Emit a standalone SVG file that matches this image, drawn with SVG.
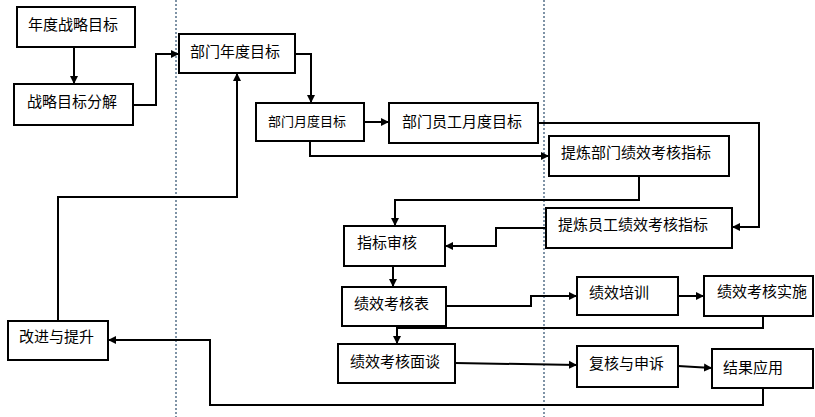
<svg xmlns="http://www.w3.org/2000/svg" width="815" height="417" viewBox="0 0 815 417">
<style>
.box{fill:#fff;stroke:#000;stroke-width:2}
.t{font-family:"Noto Sans CJK SC","Liberation Sans",sans-serif;font-size:15px;fill:#000}
.c{fill:none;stroke:#000;stroke-width:2;marker-end:url(#ah)}
.n{fill:none;stroke:#000;stroke-width:2}
.lane{stroke:#7f93a6;stroke-width:2;stroke-dasharray:2,2}
</style>
<defs>
<marker id="ah" markerUnits="userSpaceOnUse" markerWidth="9" markerHeight="9" refX="8" refY="4.5" orient="auto">
<path d="M0,0.5 L8,4.5 L0,8.5 z" fill="#000"/>
</marker>
</defs>
<rect width="815" height="417" fill="#fff"/>
<g id="lanes">
<line class="lane" x1="176" y1="0" x2="176" y2="417"/>
<line class="lane" x1="544" y1="0" x2="544" y2="417"/>
</g>
<g id="connectors">
<path class="c" d="M74,47 V84"/>
<path class="c" d="M133,105 H156 V54 H179"/>
<path class="c" d="M295,54 H311 V103"/>
<path class="c" d="M364,122 H389"/>
<path class="c" d="M310,141 V156 H549"/>
<path class="c" d="M538,123 H759 V227 H732"/>
<path class="c" d="M639,176 V200 H395 V226"/>
<path class="c" d="M546,228 H496 V246 H445"/>
<path class="c" d="M393,266 V287"/>
<path class="c" d="M446,306 H531 V296 H577"/>
<path class="c" d="M678,296 H704"/>
<path class="c" d="M763,316 V328 H397 V344"/>
<path class="c" d="M455,363 L577,365"/>
<path class="c" d="M678,366 L712,368"/>
<path class="c" d="M763,388 V405 H210 V340 H108"/>
<path class="c" d="M58,321 V197 H237 V73"/>
</g>
<g id="n1"><rect class="box" x="17" y="7" width="118" height="40"/><text class="t" x="28" y="30">年度战略目标</text></g>
<g id="n2"><rect class="box" x="14" y="84" width="119" height="41"/><text class="t" x="27" y="107">战略目标分解</text></g>
<g id="n3"><rect class="box" x="179" y="34" width="116" height="39"/><text class="t" x="190" y="57">部门年度目标</text></g>
<g id="n4"><rect class="box" x="256" y="103" width="108" height="38"/><text class="t" x="268" y="126" style="font-size:13px">部门月度目标</text></g>
<g id="n5"><rect class="box" x="389" y="103" width="149" height="40"/><text class="t" x="402" y="127">部门员工月度目标</text></g>
<g id="n6"><rect class="box" x="549" y="136" width="180" height="40"/><text class="t" x="561" y="158">提炼部门绩效考核指标</text></g>
<g id="n7"><rect class="box" x="546" y="208" width="186" height="40"/><text class="t" x="558" y="230">提炼员工绩效考核指标</text></g>
<g id="n8"><rect class="box" x="344" y="226" width="101" height="40"/><text class="t" x="357" y="248">指标审核</text></g>
<g id="n9"><rect class="box" x="342" y="287" width="104" height="39"/><text class="t" x="354" y="309">绩效考核表</text></g>
<g id="n10"><rect class="box" x="577" y="277" width="101" height="38"/><text class="t" x="589" y="298">绩效培训</text></g>
<g id="n11"><rect class="box" x="704" y="276" width="109" height="40"/><text class="t" x="717" y="297">绩效考核实施</text></g>
<g id="n12"><rect class="box" x="338" y="344" width="117" height="39"/><text class="t" x="350" y="367">绩效考核面谈</text></g>
<g id="n13"><rect class="box" x="577" y="346" width="101" height="41"/><text class="t" x="589" y="369">复核与申诉</text></g>
<g id="n14"><rect class="box" x="712" y="349" width="101" height="39"/><text class="t" x="723" y="373">结果应用</text></g>
<g id="n15"><rect class="box" x="8" y="321" width="100" height="39"/><text class="t" x="19" y="342">改进与提升</text></g>
</svg>
